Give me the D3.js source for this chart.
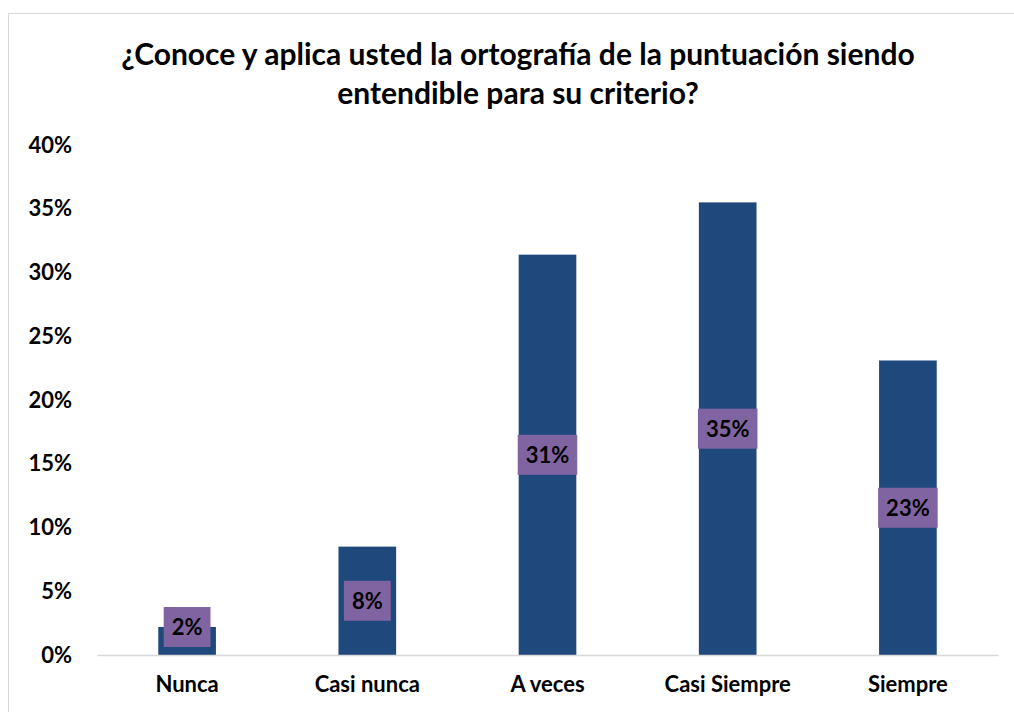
<!DOCTYPE html>
<html><head><meta charset="utf-8">
<script src="https://cdn.jsdelivr.net/npm/d3@7"></script>
<style>html,body{margin:0;padding:0;background:#fff;}svg{display:block;}</style>
</head><body>
<svg id="c" width="1014" height="712"></svg>
<script>
const categories = ["Nunca", "Casi nunca", "A veces", "Casi Siempre", "Siempre"];
const values = [0.022, 0.085, 0.314, 0.355, 0.231];
const valueLabels = ["2%", "8%", "31%", "35%", "23%"];
const yTicks = [0, 0.05, 0.10, 0.15, 0.20, 0.25, 0.30, 0.35, 0.40];
const titleLines = ["¿Conoce y aplica usted la ortografía de la puntuación siendo", "entendible para su criterio?"];

const font = "Lato, 'Open Sans', sans-serif";
const svg = d3.select("#c");
svg.append("rect").attr("x", 8.5).attr("y", 13.5).attr("width", 1020).attr("height", 720)
  .attr("fill", "#fff").attr("stroke", "#d9d9d9").attr("stroke-width", 1);

const m = {left: 97, right: 998, top: 145, bottom: 655};
const x = d3.scaleBand().domain(categories).range([m.left, m.right]).paddingInner(0.68).paddingOuter(0.34);
const y = d3.scaleLinear().domain([0, 0.40]).range([m.bottom, m.top]);

svg.append("g").selectAll("text").data(titleLines).join("text")
  .attr("x", 518).attr("y", (d, i) => 65 + i * 39)
  .attr("text-anchor", "middle").attr("font-family", font).attr("font-weight", 700)
  .attr("font-size", 30).attr("fill", "#000").text(d => d);

const yAxis = svg.append("g").attr("transform", `translate(${m.left},0)`)
  .call(d3.axisLeft(y).tickValues(yTicks).tickFormat(d3.format(".0%")).tickSize(0).tickPadding(25));
yAxis.select(".domain").remove();
yAxis.selectAll("text").attr("font-family", font).attr("font-weight", 700).attr("font-size", 22).attr("fill", "#000");

svg.append("g").selectAll("rect").data(values).join("rect")
  .attr("x", (d, i) => x(categories[i])).attr("width", x.bandwidth())
  .attr("y", d => y(d)).attr("height", d => y(0) - y(d))
  .attr("fill", "#1f497d");

const xAxis = svg.append("g").attr("transform", `translate(0,${m.bottom})`)
  .call(d3.axisBottom(x).tickSize(0).tickPadding(21));
xAxis.select(".domain").attr("stroke", "#d9d9d9").attr("stroke-width", 1.5);
xAxis.selectAll("text").attr("font-family", font).attr("font-weight", 700).attr("font-size", 22).attr("fill", "#000");

const lab = svg.append("g").selectAll("g").data(values).join("g")
  .attr("transform", (d, i) => {
    const cy = Math.min(y(d / 2), y(0) - 28);
    return `translate(${x(categories[i]) + x.bandwidth() / 2},${cy})`;
  });
lab.append("text").attr("text-anchor", "middle").attr("dy", "0.36em")
  .attr("font-family", font).attr("font-weight", 700).attr("font-size", 22).attr("fill", "#000")
  .text((d, i) => valueLabels[i]);
lab.each(function() {
  const g = d3.select(this);
  const bb = g.select("text").node().getBBox();
  g.insert("rect", "text").attr("x", bb.x - 8).attr("y", -20).attr("width", bb.width + 16).attr("height", 40)
    .attr("fill", "#8064a2");
});
</script>
</body></html>
